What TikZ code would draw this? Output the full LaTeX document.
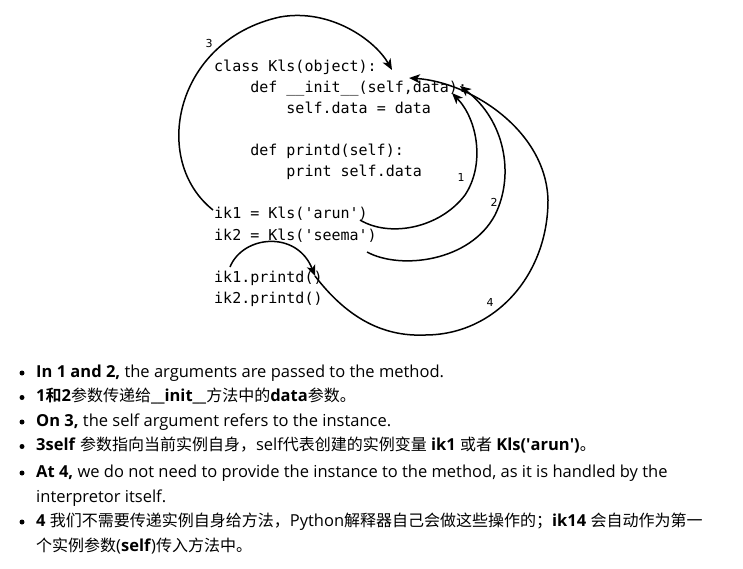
\documentclass[tikz,border=0pt]{standalone}
\usepackage{fontspec}
\setmainfont{Open Sans}
\newfontfamily\zhfont{Noto Sans CJK SC}[BoldFont={Noto Sans CJK SC Bold}]
\setmonofont{DejaVu Sans Mono}
\newfontfamily\labelfont{DejaVu Sans}
\newcommand\zh[1]{{\zhfont\fontsize{16}{20}\selectfont #1}}
\usetikzlibrary{arrows.meta}
\tikzset{
  code/.style={anchor=base west, inner sep=0pt, font=\fontsize{15}{18}\ttfamily},
  txt/.style={anchor=base west, inner sep=0pt, font=\fontsize{16.5}{20}\selectfont},
  num/.style={inner sep=0pt, font=\fontsize{11}{13}\labelfont},
  bul/.style={circle, fill=black, inner sep=0pt, minimum size=5pt},
  arc/.style={line width=1.5pt, black},
  tip/.style={-{Stealth[length=11pt,width=9pt,inset=3pt]}},
}
\begin{document}
\begin{tikzpicture}[x=1pt,y=-1pt]
\useasboundingbox[fill=white] (0,0) rectangle (743,568);
% code
\node[code] (c1) at (214,71) {class Kls(object):};
\node[code] (c2) at (214,92.2) {\ \ \ \ def \_\_init\_\_(self,data):};
\node[code] (c3) at (214,113.3) {\ \ \ \ \ \ \ \ self.data = data};
\node[code] (c4) at (214,155.6) {\ \ \ \ def printd(self):};
\node[code] (c5) at (214,176.8) {\ \ \ \ \ \ \ \ print self.data};
\node[code] (c6) at (214,218.5) {ik1 = Kls(\textquotesingle arun\textquotesingle)};
\node[code] (c7) at (214,240) {ik2 = Kls(\textquotesingle seema\textquotesingle)};
\node[code] (c8) at (214,282) {ik1.printd()};
\node[code] (c9) at (214,303) {ik2.printd()};
% labels
\node[num] (n3) at (209,43) {3};
\node[num] (n1) at (461,177) {1};
\node[num] (n2) at (494,202) {2};
\node[num] (n4) at (490,302) {4};
% connector ends
\coordinate (s3) at (213,210); \coordinate (e3) at (392,70);
\coordinate (s1) at (360,220); \coordinate (e1) at (452,93);
\coordinate (s2) at (367,252); \coordinate (e2) at (460,86);
\coordinate (s4) at (230,267); \coordinate (m4) at (315,276); \coordinate (e4) at (409,78);
% connectors
\draw[arc,tip] (s3) .. controls (150,160) and (175,40) .. (280,17) .. controls (330,8) and (375,40) .. (e3);
\draw[arc,tip] (s1) .. controls (390,238) and (440,228) .. (465,195) .. controls (485,165) and (478,120) .. (e1);
\draw[arc,tip] (s2) .. controls (400,270) and (470,262) .. (495,215) .. controls (515,175) and (505,120) .. (e2);
\draw[arc,tip] (s4) .. controls (243,235) and (297,230) .. (m4);
\draw[arc,tip] (m4) .. controls (345,315) and (380,337) .. (425,335) .. controls (495,335) and (548,275) .. (548,200) .. controls (546,130) and (470,82) .. (e4);
% bullets
\node[bul] (b1) at (22,373) {};
\node[bul] (b2) at (22,397.5) {};
\node[bul] (b3) at (22,422) {};
\node[bul] (b4) at (22,446.5) {};
\node[bul] (b5) at (22,473) {};
\node[bul] (b7) at (22,522) {};
\node[txt] (t1) at (36,377) {\textbf{In 1 and 2,} the arguments are passed to the method.};
\node[txt] (t2) at (36,401.5) {\textbf{1\zh{和}2}\zh{参数传递给}\textbf{\_\_init\_\_}\zh{方法中的}\textbf{data}\zh{参数。}};
\node[txt] (t3) at (36,426) {\textbf{On 3,} the self argument refers to the instance.};
\node[txt] (t4) at (36,450.7) {\textbf{3self} \zh{参数指向当前实例自身，}self\zh{代表创建的实例变量} \textbf{ik1} \zh{或者} \textbf{Kls(\textquotesingle arun\textquotesingle)}\zh{。}};
\node[txt] (t5) at (36,477) {\textbf{At 4,} we do not need to provide the instance to the method, as it is handled by the};
\node[txt] (t6) at (36,502) {interpretor itself.};
\node[txt] (t7) at (36,526) {\textbf{4} \zh{我们不需要传递实例自身给方法，}Python\zh{解释器自己会做这些操作的；}\textbf{ik14} \zh{会自动作为第一}};
\node[txt] (t8) at (36,551) {\zh{个实例参数}(\textbf{self})\zh{传入方法中。}};
\end{tikzpicture}
\end{document}
